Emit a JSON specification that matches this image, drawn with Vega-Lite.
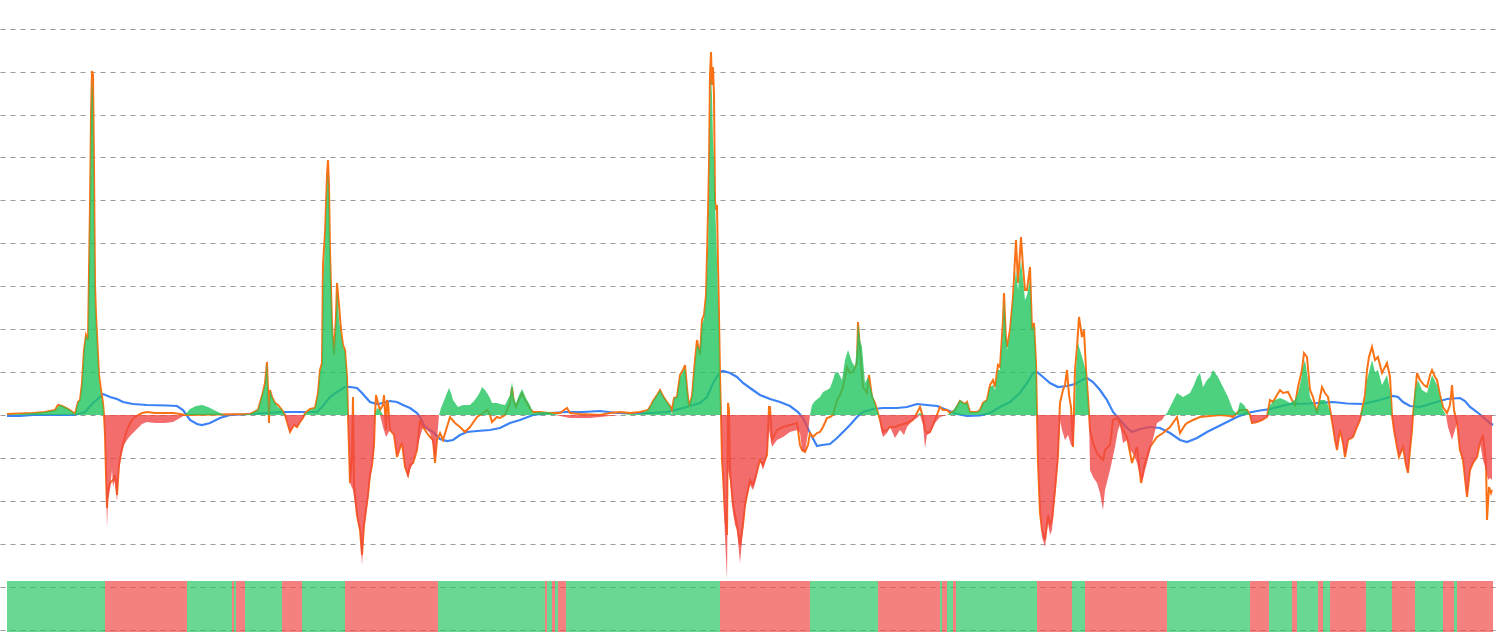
{
  "$schema": "https://vega.github.io/schema/vega-lite/v6.json",
  "width": 1500,
  "height": 633,
  "padding": 0,
  "autosize": {"type": "fit", "contains": "padding"},
  "background": "white",
  "config": {"view": {"stroke": null}},
  "datasets": {
    "strip": [
      {"x1":7,"x2":105,"s":"g"},{"x1":105,"x2":187,"s":"r"},{"x1":187,"x2":232,"s":"g"},{"x1":232,"x2":234,"s":"r"},{"x1":234,"x2":236,"s":"g"},{"x1":236,"x2":245,"s":"r"},{"x1":245,"x2":282,"s":"g"},{"x1":282,"x2":302,"s":"r"},{"x1":302,"x2":345,"s":"g"},{"x1":345,"x2":438,"s":"r"},{"x1":438,"x2":545,"s":"g"},{"x1":545,"x2":547,"s":"r"},{"x1":547,"x2":552,"s":"g"},{"x1":552,"x2":555,"s":"r"},{"x1":555,"x2":558,"s":"g"},{"x1":558,"x2":566,"s":"r"},{"x1":566,"x2":720,"s":"g"},{"x1":720,"x2":810,"s":"r"},{"x1":810,"x2":878,"s":"g"},{"x1":878,"x2":940,"s":"r"},{"x1":940,"x2":942,"s":"g"},{"x1":942,"x2":947,"s":"r"},{"x1":947,"x2":953,"s":"g"},{"x1":953,"x2":956,"s":"r"},{"x1":956,"x2":1037,"s":"g"},{"x1":1037,"x2":1072,"s":"r"},{"x1":1072,"x2":1085,"s":"g"},{"x1":1085,"x2":1167,"s":"r"},{"x1":1167,"x2":1250,"s":"g"},{"x1":1250,"x2":1269,"s":"r"},{"x1":1269,"x2":1292,"s":"g"},{"x1":1292,"x2":1297,"s":"r"},{"x1":1297,"x2":1318,"s":"g"},{"x1":1318,"x2":1323,"s":"r"},{"x1":1323,"x2":1330,"s":"g"},{"x1":1330,"x2":1366,"s":"r"},{"x1":1366,"x2":1392,"s":"g"},{"x1":1392,"x2":1415,"s":"r"},{"x1":1415,"x2":1443,"s":"g"},{"x1":1443,"x2":1454,"s":"r"},{"x1":1454,"x2":1457,"s":"g"},{"x1":1457,"x2":1493,"s":"r"}
    ],
    "blue": [
      {"x":7,"v":-1},{"x":20,"v":-1},{"x":33,"v":0},{"x":75,"v":0},{"x":85,"v":3},{"x":93,"v":12},{"x":100,"v":18},{"x":103,"v":21},{"x":110,"v":18},{"x":117,"v":16},{"x":123,"v":13},{"x":133,"v":11},{"x":147,"v":10},{"x":167,"v":9.5},{"x":177,"v":9},{"x":183,"v":5},{"x":190,"v":-5},{"x":197,"v":-9},{"x":202,"v":-10},{"x":210,"v":-8},{"x":220,"v":-3},{"x":230,"v":0},{"x":250,"v":1},{"x":283,"v":3},{"x":317,"v":3},{"x":322,"v":8},{"x":330,"v":18},{"x":337,"v":23},{"x":345,"v":28},{"x":350,"v":28},{"x":357,"v":27},{"x":362,"v":22},{"x":370,"v":13},{"x":377,"v":11},{"x":383,"v":12},{"x":390,"v":14},{"x":397,"v":13},{"x":403,"v":10},{"x":410,"v":7},{"x":417,"v":2},{"x":420,"v":-2},{"x":425,"v":-12},{"x":433,"v":-17},{"x":440,"v":-24},{"x":447,"v":-26},{"x":453,"v":-25},{"x":460,"v":-20},{"x":467,"v":-17},{"x":477,"v":-16},{"x":490,"v":-15},{"x":500,"v":-13},{"x":510,"v":-8},{"x":520,"v":-5},{"x":533,"v":0},{"x":550,"v":2},{"x":567,"v":3},{"x":583,"v":3},{"x":600,"v":4},{"x":617,"v":2},{"x":633,"v":2},{"x":650,"v":2},{"x":667,"v":3},{"x":683,"v":7},{"x":690,"v":9},{"x":700,"v":12},{"x":707,"v":18},{"x":713,"v":32},{"x":720,"v":43},{"x":723,"v":44},{"x":730,"v":42},{"x":737,"v":38},{"x":743,"v":32},{"x":750,"v":27},{"x":760,"v":20},{"x":770,"v":16},{"x":780,"v":13},{"x":790,"v":9},{"x":798,"v":3},{"x":803,"v":-3},{"x":810,"v":-18},{"x":817,"v":-31},{"x":822,"v":-30},{"x":830,"v":-29},{"x":837,"v":-23},{"x":843,"v":-17},{"x":850,"v":-10},{"x":857,"v":-2},{"x":863,"v":3},{"x":873,"v":6},{"x":883,"v":7},{"x":897,"v":7},{"x":907,"v":8},{"x":917,"v":11},{"x":927,"v":10},{"x":937,"v":9},{"x":947,"v":5},{"x":957,"v":1},{"x":967,"v":-1},{"x":980,"v":-0.5},{"x":990,"v":2},{"x":1000,"v":8},{"x":1010,"v":13},{"x":1020,"v":22},{"x":1027,"v":32},{"x":1033,"v":42},{"x":1037,"v":43},{"x":1043,"v":38},{"x":1050,"v":32},{"x":1058,"v":28},{"x":1067,"v":29},{"x":1075,"v":31},{"x":1082,"v":35},{"x":1087,"v":37},{"x":1093,"v":33},{"x":1100,"v":25},{"x":1107,"v":15},{"x":1113,"v":3},{"x":1120,"v":-5},{"x":1127,"v":-13},{"x":1132,"v":-17},{"x":1140,"v":-14},{"x":1150,"v":-12},{"x":1160,"v":-13},{"x":1170,"v":-18},{"x":1180,"v":-25},{"x":1187,"v":-27},{"x":1197,"v":-23},{"x":1207,"v":-17},{"x":1217,"v":-12},{"x":1227,"v":-7},{"x":1237,"v":-2},{"x":1247,"v":2},{"x":1257,"v":4},{"x":1270,"v":6},{"x":1290,"v":11},{"x":1310,"v":11.5},{"x":1333,"v":13},{"x":1347,"v":11.5},{"x":1363,"v":11},{"x":1380,"v":15},{"x":1393,"v":19},{"x":1398,"v":18},{"x":1403,"v":13},{"x":1410,"v":9},{"x":1420,"v":8},{"x":1433,"v":12},{"x":1447,"v":16},{"x":1460,"v":17},{"x":1465,"v":14},{"x":1470,"v":8},{"x":1477,"v":3},{"x":1483,"v":-2},{"x":1490,"v":-8},{"x":1493,"v":-10}
    ],
    "orange": [
      {"x":7,"v":1},{"x":33,"v":2},{"x":45,"v":3},{"x":55,"v":5},{"x":58,"v":10},{"x":62,"v":9},{"x":66,"v":7},{"x":70,"v":5},{"x":75,"v":1},{"x":78,"v":13},{"x":80,"v":15},{"x":82,"v":32},{"x":84,"v":65},{"x":86,"v":80},{"x":88,"v":75},{"x":90,"v":210},{"x":91,"v":300},{"x":92,"v":344},{"x":93,"v":340},{"x":94,"v":250},{"x":95,"v":130},{"x":96,"v":100},{"x":97,"v":80},{"x":99,"v":40},{"x":101,"v":25},{"x":103,"v":12},{"x":104,"v":0},{"x":105,"v":-20},{"x":106,"v":-60},{"x":107,"v":-93},{"x":108,"v":-75},{"x":110,"v":-68},{"x":113,"v":-65},{"x":115,"v":-60},{"x":117,"v":-80},{"x":119,"v":-50},{"x":121,"v":-38},{"x":124,"v":-25},{"x":127,"v":-15},{"x":130,"v":-8},{"x":134,"v":-3},{"x":138,"v":0},{"x":142,"v":2},{"x":147,"v":3},{"x":155,"v":2},{"x":165,"v":2},{"x":173,"v":2},{"x":180,"v":1},{"x":185,"v":0},{"x":250,"v":1},{"x":258,"v":5},{"x":263,"v":23},{"x":265,"v":32},{"x":267,"v":53},{"x":268,"v":25},{"x":269,"v":-8},{"x":270,"v":25},{"x":272,"v":18},{"x":275,"v":12},{"x":278,"v":10},{"x":282,"v":5},{"x":285,"v":0},{"x":288,"v":-10},{"x":290,"v":-17},{"x":294,"v":-10},{"x":297,"v":-12},{"x":300,"v":-7},{"x":303,"v":-3},{"x":305,"v":2},{"x":310,"v":6},{"x":315,"v":7},{"x":318,"v":22},{"x":320,"v":45},{"x":322,"v":52},{"x":323,"v":150},{"x":325,"v":182},{"x":327,"v":240},{"x":328,"v":255},{"x":329,"v":230},{"x":330,"v":165},{"x":332,"v":90},{"x":334,"v":60},{"x":336,"v":100},{"x":337,"v":132},{"x":339,"v":110},{"x":341,"v":85},{"x":343,"v":70},{"x":345,"v":65},{"x":347,"v":38},{"x":348,"v":0},{"x":350,"v":-68},{"x":352,"v":-40},{"x":353,"v":18},{"x":354,"v":-70},{"x":357,"v":-100},{"x":360,"v":-115},{"x":362,"v":-140},{"x":364,"v":-110},{"x":366,"v":-95},{"x":368,"v":-80},{"x":370,"v":-60},{"x":372,"v":-50},{"x":374,"v":-30},{"x":375,"v":0},{"x":376,"v":20},{"x":378,"v":12},{"x":380,"v":5},{"x":383,"v":10},{"x":384,"v":20},{"x":386,"v":-15},{"x":387,"v":15},{"x":388,"v":12},{"x":390,"v":-15},{"x":394,"v":-20},{"x":397,"v":-42},{"x":400,"v":-33},{"x":402,"v":-28},{"x":405,"v":-52},{"x":408,"v":-60},{"x":410,"v":-50},{"x":413,"v":-48},{"x":417,"v":-35},{"x":420,"v":-5},{"x":423,"v":-12},{"x":427,"v":-18},{"x":430,"v":-22},{"x":433,"v":-25},{"x":435,"v":-48},{"x":437,"v":-25},{"x":440,"v":-18},{"x":443,"v":-25},{"x":447,"v":-12},{"x":450,"v":-2},{"x":455,"v":-8},{"x":460,"v":-12},{"x":465,"v":-17},{"x":470,"v":-12},{"x":477,"v":-2},{"x":483,"v":2},{"x":487,"v":5},{"x":490,"v":0},{"x":492,"v":-7},{"x":497,"v":-2},{"x":500,"v":-3},{"x":505,"v":0},{"x":510,"v":12},{"x":512,"v":28},{"x":514,"v":12},{"x":516,"v":8},{"x":519,"v":15},{"x":522,"v":22},{"x":525,"v":15},{"x":527,"v":12},{"x":530,"v":6},{"x":533,"v":3},{"x":540,"v":3},{"x":548,"v":2},{"x":560,"v":2},{"x":567,"v":7},{"x":570,"v":2},{"x":580,"v":1},{"x":600,"v":0},{"x":610,"v":2},{"x":620,"v":3},{"x":630,"v":2},{"x":640,"v":3},{"x":648,"v":5},{"x":651,"v":10},{"x":653,"v":14},{"x":657,"v":20},{"x":660,"v":25},{"x":663,"v":19},{"x":667,"v":13},{"x":670,"v":9},{"x":672,"v":5},{"x":674,"v":17},{"x":677,"v":18},{"x":680,"v":40},{"x":683,"v":45},{"x":685,"v":50},{"x":687,"v":27},{"x":689,"v":8},{"x":692,"v":19},{"x":695,"v":55},{"x":697,"v":75},{"x":700,"v":60},{"x":702,"v":95},{"x":704,"v":100},{"x":706,"v":120},{"x":708,"v":200},{"x":709,"v":250},{"x":710,"v":340},{"x":711,"v":363},{"x":712,"v":330},{"x":713,"v":348},{"x":714,"v":320},{"x":715,"v":215},{"x":716,"v":205},{"x":717,"v":210},{"x":718,"v":150},{"x":719,"v":100},{"x":720,"v":40},{"x":721,"v":0},{"x":722,"v":-45},{"x":723,"v":-60},{"x":725,"v":-100},{"x":727,"v":-120},{"x":728,"v":12},{"x":729,"v":5},{"x":730,"v":-55},{"x":733,"v":-90},{"x":735,"v":-100},{"x":737,"v":-110},{"x":740,"v":-130},{"x":743,"v":-110},{"x":745,"v":-90},{"x":747,"v":-80},{"x":750,"v":-65},{"x":753,"v":-70},{"x":756,"v":-60},{"x":760,"v":-45},{"x":763,"v":-50},{"x":767,"v":-40},{"x":769,"v":8},{"x":770,"v":8},{"x":772,"v":-25},{"x":777,"v":-15},{"x":783,"v":-12},{"x":790,"v":-10},{"x":797,"v":-8},{"x":800,"v":-30},{"x":802,"v":-35},{"x":805,"v":-37},{"x":808,"v":-30},{"x":810,"v":-18},{"x":813,"v":-22},{"x":817,"v":-18},{"x":820,"v":-17},{"x":823,"v":-12},{"x":827,"v":-3},{"x":830,"v":-2},{"x":833,"v":0},{"x":837,"v":15},{"x":840,"v":20},{"x":843,"v":28},{"x":847,"v":48},{"x":850,"v":42},{"x":853,"v":43},{"x":857,"v":52},{"x":858,"v":93},{"x":860,"v":65},{"x":863,"v":28},{"x":867,"v":22},{"x":869,"v":40},{"x":872,"v":18},{"x":875,"v":12},{"x":878,"v":2},{"x":880,"v":-5},{"x":883,"v":-17},{"x":887,"v":-15},{"x":890,"v":-12},{"x":895,"v":-12},{"x":900,"v":-10},{"x":907,"v":-8},{"x":913,"v":-5},{"x":917,"v":2},{"x":920,"v":8},{"x":923,"v":-2},{"x":925,"v":-15},{"x":927,"v":-18},{"x":930,"v":-17},{"x":935,"v":-5},{"x":940,"v":8},{"x":943,"v":5},{"x":947,"v":5},{"x":950,"v":2},{"x":955,"v":5},{"x":960,"v":14},{"x":965,"v":11},{"x":967,"v":13},{"x":970,"v":3},{"x":977,"v":3},{"x":980,"v":5},{"x":983,"v":12},{"x":987,"v":15},{"x":990,"v":30},{"x":993,"v":35},{"x":995,"v":28},{"x":998,"v":50},{"x":1000,"v":48},{"x":1003,"v":95},{"x":1004,"v":122},{"x":1006,"v":75},{"x":1007,"v":68},{"x":1010,"v":85},{"x":1013,"v":118},{"x":1016,"v":175},{"x":1018,"v":132},{"x":1021,"v":178},{"x":1023,"v":148},{"x":1025,"v":125},{"x":1027,"v":125},{"x":1030,"v":148},{"x":1032,"v":85},{"x":1034,"v":92},{"x":1036,"v":52},{"x":1037,"v":0},{"x":1038,"v":-48},{"x":1040,"v":-98},{"x":1042,"v":-115},{"x":1045,"v":-125},{"x":1048,"v":-100},{"x":1050,"v":-110},{"x":1052,"v":-105},{"x":1055,"v":-75},{"x":1058,"v":-40},{"x":1060,"v":12},{"x":1063,"v":25},{"x":1065,"v":30},{"x":1067,"v":45},{"x":1069,"v":20},{"x":1071,"v":8},{"x":1073,"v":-32},{"x":1075,"v":45},{"x":1077,"v":68},{"x":1079,"v":98},{"x":1082,"v":78},{"x":1084,"v":85},{"x":1086,"v":45},{"x":1088,"v":18},{"x":1090,"v":-15},{"x":1093,"v":-28},{"x":1097,"v":-38},{"x":1100,"v":-42},{"x":1103,"v":-45},{"x":1105,"v":-35},{"x":1110,"v":-30},{"x":1113,"v":-5},{"x":1117,"v":-3},{"x":1120,"v":-8},{"x":1123,"v":-15},{"x":1127,"v":-22},{"x":1132,"v":-48},{"x":1137,"v":-32},{"x":1141,"v":-68},{"x":1145,"v":-48},{"x":1150,"v":-32},{"x":1157,"v":-22},{"x":1163,"v":-18},{"x":1170,"v":-12},{"x":1175,"v":-5},{"x":1177,"v":-2},{"x":1180,"v":-18},{"x":1185,"v":-10},{"x":1187,"v":-8},{"x":1193,"v":-5},{"x":1200,"v":-2},{"x":1210,"v":-1},{"x":1220,"v":0},{"x":1230,"v":-1},{"x":1233,"v":-2},{"x":1240,"v":5},{"x":1247,"v":5},{"x":1250,"v":0},{"x":1252,"v":-8},{"x":1257,"v":-7},{"x":1262,"v":-5},{"x":1267,"v":-2},{"x":1270,"v":15},{"x":1273,"v":13},{"x":1277,"v":20},{"x":1280,"v":25},{"x":1283,"v":22},{"x":1288,"v":23},{"x":1292,"v":15},{"x":1295,"v":10},{"x":1298,"v":28},{"x":1302,"v":45},{"x":1304,"v":62},{"x":1307,"v":58},{"x":1310,"v":25},{"x":1313,"v":18},{"x":1317,"v":2},{"x":1322,"v":28},{"x":1325,"v":22},{"x":1328,"v":18},{"x":1331,"v":0},{"x":1333,"v":-12},{"x":1335,"v":-25},{"x":1337,"v":-35},{"x":1340,"v":-15},{"x":1343,"v":-28},{"x":1345,"v":-42},{"x":1348,"v":-25},{"x":1353,"v":-22},{"x":1357,"v":-12},{"x":1360,"v":-5},{"x":1362,"v":5},{"x":1365,"v":20},{"x":1367,"v":45},{"x":1369,"v":58},{"x":1372,"v":68},{"x":1375,"v":55},{"x":1378,"v":58},{"x":1382,"v":42},{"x":1387,"v":52},{"x":1390,"v":38},{"x":1392,"v":0},{"x":1394,"v":-15},{"x":1397,"v":-32},{"x":1399,"v":-42},{"x":1403,"v":-32},{"x":1406,"v":-50},{"x":1408,"v":-58},{"x":1410,"v":-35},{"x":1412,"v":-15},{"x":1413,"v":0},{"x":1415,"v":20},{"x":1417,"v":42},{"x":1420,"v":35},{"x":1424,"v":30},{"x":1427,"v":28},{"x":1430,"v":40},{"x":1432,"v":45},{"x":1435,"v":38},{"x":1437,"v":35},{"x":1440,"v":20},{"x":1443,"v":8},{"x":1447,"v":2},{"x":1450,"v":10},{"x":1452,"v":30},{"x":1454,"v":5},{"x":1457,"v":-8},{"x":1460,"v":-35},{"x":1463,"v":-45},{"x":1467,"v":-82},{"x":1470,"v":-55},{"x":1473,"v":-48},{"x":1477,"v":-42},{"x":1480,"v":-28},{"x":1483,"v":-20},{"x":1486,"v":-48},{"x":1487,"v":-105},{"x":1489,"v":-72},{"x":1491,"v":-78},{"x":1492,"v":-75}
    ],
    "osc": [
      {"x":7,"v":0},{"x":20,"v":1},{"x":33,"v":2},{"x":45,"v":3},{"x":55,"v":5},{"x":60,"v":10},{"x":65,"v":8},{"x":70,"v":5},{"x":75,"v":1},{"x":78,"v":13},{"x":80,"v":15},{"x":82,"v":32},{"x":84,"v":65},{"x":86,"v":80},{"x":88,"v":75},{"x":90,"v":205},{"x":91,"v":295},{"x":92,"v":335},{"x":93,"v":315},{"x":94,"v":215},{"x":95,"v":115},{"x":96,"v":95},{"x":97,"v":75},{"x":99,"v":35},{"x":101,"v":20},{"x":103,"v":10},{"x":104,"v":0},{"x":105,"v":-25},{"x":106,"v":-65},{"x":107,"v":-113},{"x":108,"v":-85},{"x":110,"v":-75},{"x":112,"v":-55},{"x":113,"v":-72},{"x":115,"v":-65},{"x":117,"v":-87},{"x":119,"v":-55},{"x":121,"v":-42},{"x":124,"v":-30},{"x":127,"v":-25},{"x":130,"v":-21},{"x":134,"v":-17},{"x":138,"v":-13},{"x":142,"v":-9},{"x":147,"v":-7},{"x":155,"v":-8},{"x":165,"v":-8},{"x":173,"v":-7},{"x":180,"v":-3},{"x":185,"v":0},{"x":190,"v":6},{"x":196,"v":9},{"x":202,"v":10},{"x":208,"v":8},{"x":214,"v":5},{"x":220,"v":2},{"x":225,"v":0},{"x":240,"v":0},{"x":250,"v":1},{"x":258,"v":5},{"x":263,"v":23},{"x":265,"v":30},{"x":267,"v":53},{"x":268,"v":20},{"x":269,"v":0},{"x":270,"v":25},{"x":272,"v":18},{"x":275,"v":12},{"x":278,"v":8},{"x":282,"v":5},{"x":285,"v":0},{"x":288,"v":-10},{"x":290,"v":-17},{"x":294,"v":-10},{"x":297,"v":-12},{"x":300,"v":-7},{"x":303,"v":-3},{"x":305,"v":1},{"x":310,"v":5},{"x":315,"v":7},{"x":318,"v":20},{"x":320,"v":43},{"x":322,"v":50},{"x":323,"v":125},{"x":325,"v":170},{"x":327,"v":225},{"x":328,"v":243},{"x":329,"v":215},{"x":330,"v":160},{"x":332,"v":95},{"x":334,"v":65},{"x":336,"v":95},{"x":337,"v":125},{"x":339,"v":95},{"x":341,"v":80},{"x":343,"v":68},{"x":345,"v":63},{"x":347,"v":35},{"x":348,"v":0},{"x":350,"v":-68},{"x":353,"v":-75},{"x":357,"v":-102},{"x":360,"v":-118},{"x":362,"v":-150},{"x":364,"v":-115},{"x":366,"v":-100},{"x":368,"v":-85},{"x":370,"v":-65},{"x":372,"v":-52},{"x":374,"v":-35},{"x":375,"v":0},{"x":377,"v":7},{"x":380,"v":5},{"x":383,"v":-12},{"x":386,"v":-22},{"x":390,"v":-15},{"x":394,"v":-20},{"x":397,"v":-42},{"x":400,"v":-33},{"x":402,"v":-28},{"x":405,"v":-52},{"x":408,"v":-63},{"x":410,"v":-55},{"x":413,"v":-48},{"x":417,"v":-35},{"x":420,"v":-22},{"x":423,"v":-12},{"x":427,"v":-15},{"x":430,"v":-18},{"x":433,"v":-30},{"x":435,"v":-45},{"x":437,"v":-25},{"x":439,"v":0},{"x":441,"v":7},{"x":443,"v":12},{"x":447,"v":22},{"x":449,"v":27},{"x":451,"v":22},{"x":453,"v":15},{"x":458,"v":8},{"x":463,"v":10},{"x":470,"v":10},{"x":474,"v":14},{"x":477,"v":18},{"x":480,"v":23},{"x":482,"v":28},{"x":485,"v":25},{"x":487,"v":22},{"x":490,"v":17},{"x":492,"v":12},{"x":497,"v":12},{"x":500,"v":11},{"x":505,"v":10},{"x":510,"v":20},{"x":512,"v":33},{"x":514,"v":17},{"x":516,"v":12},{"x":519,"v":20},{"x":522,"v":26},{"x":525,"v":19},{"x":527,"v":15},{"x":530,"v":10},{"x":533,"v":2},{"x":540,"v":3},{"x":548,"v":3},{"x":555,"v":1},{"x":560,"v":-1},{"x":570,"v":-3},{"x":580,"v":-3},{"x":590,"v":-3},{"x":600,"v":-2},{"x":610,"v":-1},{"x":620,"v":0},{"x":630,"v":1},{"x":640,"v":1},{"x":648,"v":5},{"x":651,"v":10},{"x":653,"v":14},{"x":657,"v":20},{"x":660,"v":25},{"x":663,"v":19},{"x":667,"v":13},{"x":670,"v":9},{"x":672,"v":0},{"x":674,"v":17},{"x":677,"v":18},{"x":680,"v":38},{"x":683,"v":43},{"x":685,"v":47},{"x":687,"v":27},{"x":689,"v":10},{"x":692,"v":19},{"x":695,"v":52},{"x":697,"v":70},{"x":700,"v":65},{"x":702,"v":90},{"x":704,"v":97},{"x":706,"v":115},{"x":708,"v":165},{"x":709,"v":215},{"x":710,"v":295},{"x":711,"v":338},{"x":712,"v":320},{"x":713,"v":275},{"x":714,"v":255},{"x":715,"v":215},{"x":716,"v":185},{"x":717,"v":155},{"x":718,"v":115},{"x":719,"v":85},{"x":720,"v":35},{"x":721,"v":0},{"x":722,"v":-45},{"x":723,"v":-65},{"x":725,"v":-122},{"x":727,"v":-165},{"x":728,"v":-55},{"x":730,"v":-65},{"x":733,"v":-98},{"x":735,"v":-110},{"x":737,"v":-115},{"x":740,"v":-148},{"x":743,"v":-115},{"x":745,"v":-95},{"x":747,"v":-82},{"x":750,"v":-70},{"x":753,"v":-75},{"x":756,"v":-65},{"x":760,"v":-45},{"x":763,"v":-55},{"x":767,"v":-40},{"x":769,"v":-15},{"x":772,"v":-32},{"x":777,"v":-25},{"x":783,"v":-22},{"x":790,"v":-17},{"x":797,"v":-15},{"x":800,"v":-18},{"x":802,"v":-35},{"x":805,"v":-37},{"x":808,"v":-18},{"x":810,"v":0},{"x":812,"v":10},{"x":815,"v":14},{"x":820,"v":18},{"x":823,"v":23},{"x":827,"v":25},{"x":830,"v":27},{"x":833,"v":35},{"x":835,"v":42},{"x":838,"v":43},{"x":842,"v":35},{"x":845,"v":55},{"x":848,"v":65},{"x":852,"v":53},{"x":855,"v":48},{"x":857,"v":70},{"x":858,"v":93},{"x":860,"v":75},{"x":862,"v":68},{"x":865,"v":32},{"x":868,"v":38},{"x":872,"v":22},{"x":875,"v":12},{"x":877,"v":5},{"x":879,"v":0},{"x":881,"v":-15},{"x":883,"v":-22},{"x":887,"v":-18},{"x":890,"v":-12},{"x":895,"v":-23},{"x":900,"v":-15},{"x":904,"v":-20},{"x":907,"v":-12},{"x":913,"v":-5},{"x":917,"v":-3},{"x":920,"v":2},{"x":923,"v":-10},{"x":925,"v":-33},{"x":927,"v":-20},{"x":930,"v":-18},{"x":935,"v":-8},{"x":940,"v":-2},{"x":947,"v":0},{"x":952,"v":3},{"x":957,"v":10},{"x":960,"v":15},{"x":965,"v":11},{"x":967,"v":13},{"x":970,"v":3},{"x":977,"v":3},{"x":980,"v":5},{"x":983,"v":12},{"x":987,"v":15},{"x":990,"v":28},{"x":993,"v":30},{"x":995,"v":25},{"x":998,"v":45},{"x":1000,"v":45},{"x":1003,"v":85},{"x":1004,"v":115},{"x":1006,"v":80},{"x":1007,"v":65},{"x":1010,"v":80},{"x":1013,"v":115},{"x":1016,"v":145},{"x":1018,"v":125},{"x":1021,"v":155},{"x":1023,"v":135},{"x":1025,"v":115},{"x":1027,"v":120},{"x":1030,"v":135},{"x":1032,"v":85},{"x":1034,"v":90},{"x":1036,"v":50},{"x":1037,"v":0},{"x":1038,"v":-48},{"x":1040,"v":-98},{"x":1042,"v":-122},{"x":1045,"v":-132},{"x":1048,"v":-108},{"x":1050,"v":-120},{"x":1052,"v":-115},{"x":1055,"v":-82},{"x":1058,"v":-48},{"x":1060,"v":-5},{"x":1062,"v":-15},{"x":1065,"v":-25},{"x":1068,"v":-20},{"x":1071,"v":-30},{"x":1073,"v":-32},{"x":1075,"v":0},{"x":1076,"v":45},{"x":1078,"v":72},{"x":1080,"v":65},{"x":1083,"v":55},{"x":1086,"v":43},{"x":1088,"v":15},{"x":1089,"v":0},{"x":1090,"v":-55},{"x":1093,"v":-62},{"x":1097,"v":-68},{"x":1100,"v":-78},{"x":1103,"v":-95},{"x":1105,"v":-75},{"x":1110,"v":-55},{"x":1115,"v":-32},{"x":1118,"v":-15},{"x":1120,"v":-10},{"x":1123,"v":-28},{"x":1127,"v":-25},{"x":1130,"v":-35},{"x":1134,"v":-40},{"x":1137,"v":-48},{"x":1140,"v":-60},{"x":1142,"v":-68},{"x":1145,"v":-55},{"x":1147,"v":-48},{"x":1152,"v":-28},{"x":1157,"v":-8},{"x":1162,"v":-5},{"x":1165,"v":0},{"x":1167,"v":2},{"x":1172,"v":12},{"x":1177,"v":22},{"x":1183,"v":18},{"x":1190,"v":22},{"x":1194,"v":30},{"x":1197,"v":38},{"x":1200,"v":42},{"x":1203,"v":28},{"x":1207,"v":35},{"x":1210,"v":38},{"x":1213,"v":45},{"x":1218,"v":38},{"x":1223,"v":28},{"x":1228,"v":18},{"x":1233,"v":5},{"x":1237,"v":1},{"x":1240,"v":13},{"x":1244,"v":10},{"x":1247,"v":5},{"x":1250,"v":0},{"x":1252,"v":-8},{"x":1257,"v":-7},{"x":1262,"v":-5},{"x":1267,"v":-2},{"x":1270,"v":10},{"x":1275,"v":15},{"x":1280,"v":17},{"x":1285,"v":15},{"x":1290,"v":12},{"x":1295,"v":15},{"x":1298,"v":22},{"x":1301,"v":35},{"x":1303,"v":48},{"x":1305,"v":55},{"x":1307,"v":42},{"x":1310,"v":18},{"x":1314,"v":10},{"x":1317,"v":5},{"x":1320,"v":15},{"x":1325,"v":15},{"x":1328,"v":10},{"x":1331,"v":0},{"x":1333,"v":-12},{"x":1335,"v":-25},{"x":1337,"v":-35},{"x":1340,"v":-15},{"x":1343,"v":-28},{"x":1345,"v":-42},{"x":1348,"v":-25},{"x":1353,"v":-22},{"x":1357,"v":-12},{"x":1360,"v":-5},{"x":1362,"v":5},{"x":1365,"v":15},{"x":1367,"v":35},{"x":1369,"v":43},{"x":1372,"v":55},{"x":1375,"v":43},{"x":1378,"v":45},{"x":1382,"v":30},{"x":1387,"v":40},{"x":1390,"v":25},{"x":1392,"v":0},{"x":1394,"v":-15},{"x":1397,"v":-32},{"x":1399,"v":-42},{"x":1403,"v":-32},{"x":1406,"v":-50},{"x":1408,"v":-58},{"x":1410,"v":-35},{"x":1412,"v":-15},{"x":1413,"v":0},{"x":1415,"v":25},{"x":1418,"v":35},{"x":1422,"v":25},{"x":1427,"v":22},{"x":1432,"v":40},{"x":1437,"v":30},{"x":1440,"v":18},{"x":1443,"v":5},{"x":1446,"v":0},{"x":1448,"v":-12},{"x":1452,"v":-25},{"x":1457,"v":-8},{"x":1460,"v":-35},{"x":1463,"v":-45},{"x":1467,"v":-82},{"x":1470,"v":-55},{"x":1473,"v":-48},{"x":1477,"v":-42},{"x":1480,"v":-28},{"x":1483,"v":-45},{"x":1486,"v":-55},{"x":1488,"v":-65},{"x":1490,"v":-63},{"x":1492,"v":-65}
    ]
  },
  "layer": [
    {
      "data": {"name": "strip"},
      "mark": {"type": "rect", "opacity": 0.68},
      "encoding": {
        "x": {"field": "x1", "type": "quantitative", "scale": {"domain": [0, 1500], "nice": false, "zero": false}, "axis": null},
        "x2": {"field": "x2"},
        "y": {"datum": -166, "type": "quantitative", "scale": {"domain": [-218, 415], "nice": false, "zero": false},
              "axis": {"values": [-214.6, -171.7, -128.7, -85.8, -42.9, 0, 42.9, 85.8, 128.7, 171.7, 214.6, 257.5, 300.4, 343.3, 386.2],
                       "grid": true, "gridDash": [5, 5], "gridColor": "#9a9a9a", "gridWidth": 1, "labels": false, "ticks": false, "domain": false, "title": null}},
        "y2": {"datum": -217},
        "color": {"field": "s", "type": "nominal", "scale": {"domain": ["g", "r"], "range": ["#22c55e", "#ef4444"]}, "legend": null}
      }
    },
    {
      "data": {"name": "blue"},
      "mark": {"type": "line", "color": "#3b82f6", "strokeWidth": 2.2},
      "encoding": {
        "x": {"field": "x", "type": "quantitative", "scale": {"domain": [0, 1500], "nice": false, "zero": false}, "axis": null},
        "y": {"field": "v", "type": "quantitative", "scale": {"domain": [-218, 415], "nice": false, "zero": false}, "axis": null}
      }
    },
    {
      "data": {"name": "orange"},
      "mark": {"type": "line", "color": "#f97316", "strokeWidth": 2},
      "encoding": {
        "x": {"field": "x", "type": "quantitative", "scale": {"domain": [0, 1500], "nice": false, "zero": false}, "axis": null},
        "y": {"field": "v", "type": "quantitative", "scale": {"domain": [-218, 415], "nice": false, "zero": false}, "axis": null}
      }
    },
    {
      "data": {"name": "osc"},
      "mark": {"type": "area", "color": "#22c55e", "opacity": 0.8},
      "encoding": {
        "x": {"field": "x", "type": "quantitative", "scale": {"domain": [0, 1500], "nice": false, "zero": false}, "axis": null},
        "y": {"field": "v", "type": "quantitative", "scale": {"domain": [0, 415], "range": [415, 0], "clamp": true, "nice": false, "zero": false}, "axis": null},
        "y2": {"datum": 0}
      }
    },
    {
      "data": {"name": "osc"},
      "mark": {"type": "area", "color": "#ef4444", "opacity": 0.78},
      "encoding": {
        "x": {"field": "x", "type": "quantitative", "scale": {"domain": [0, 1500], "nice": false, "zero": false}, "axis": null},
        "y": {"field": "v", "type": "quantitative", "scale": {"domain": [-218, 0], "range": [633, 415], "clamp": true, "nice": false, "zero": false}, "axis": null},
        "y2": {"datum": 0}
      }
    }
  ],
  "resolve": {"scale": {"y": "independent"}}
}
